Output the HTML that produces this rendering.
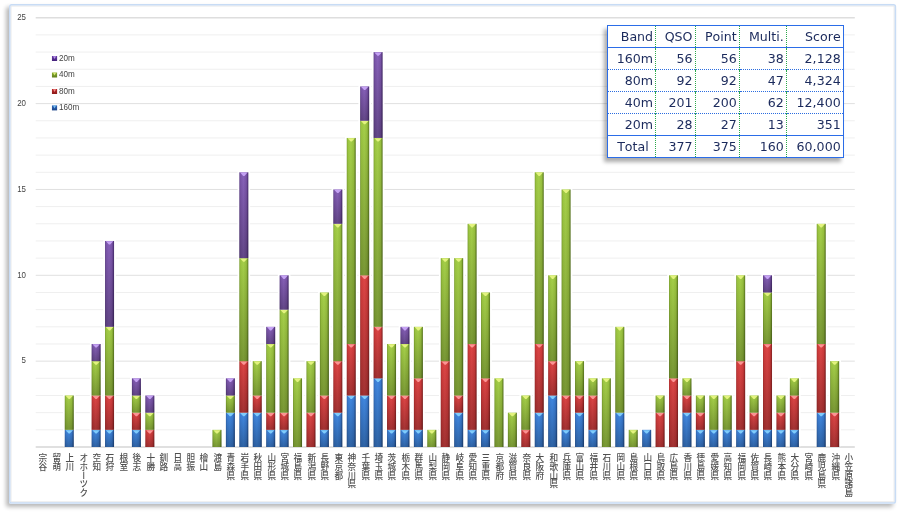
<!DOCTYPE html>
<html lang="ja"><head><meta charset="utf-8"><title>chart</title>
<style>
html,body{margin:0;padding:0;background:#fff;}
body{width:900px;height:513px;position:relative;overflow:hidden;font-family:"Liberation Sans","Noto Sans CJK JP",sans-serif;}
#frame{position:absolute;left:9.2px;top:4.2px;width:886.7px;height:499.5px;border-radius:2px;background:#fff;box-shadow:-3px 3px 4px rgba(0,0,0,0.28);}
.yl{position:absolute;left:5.8px;width:20px;text-align:right;font-size:8.8px;line-height:10px;color:#444;transform:scaleX(0.9);transform-origin:100% 50%;}
.lg{position:absolute;left:59.3px;font-size:8.8px;line-height:10px;color:#444;white-space:nowrap;transform:scaleX(0.92);transform-origin:0 50%;}
.cl{position:absolute;top:453.2px;width:10px;font-family:"Liberation Sans","Noto Sans CJK JP",sans-serif;font-size:9.3px;font-weight:500;line-height:10px;color:#505050;writing-mode:vertical-rl;text-orientation:upright;white-space:nowrap;transform:scaleX(0.93);transform-origin:50% 0;letter-spacing:-0.55px;}
#tbl{position:absolute;left:606.7px;top:25px;border-collapse:collapse;background:#fff;font-family:"DejaVu Sans","Liberation Sans",sans-serif;font-size:12.6px;color:#1b2a5c;box-shadow:-3px 3.5px 4px rgba(0,0,0,0.33);}
#tbl td{font-kerning:none;height:21.75px;padding:1px 2.2px 0 0;text-align:right;box-sizing:border-box;border-left:1.3px dotted #2aa84a;border-top:1.3px dotted #2b6de0;line-height:20px;white-space:nowrap;}
#tbl td:first-child{border-left:none;}
#tbl{border:1.5px solid #2b6de8;}
#tbl tr.h td{border-top:none;}
#tbl tr.s td{border-top:1.5px solid #2b6de8;}
</style></head><body>
<div id="frame"></div>

<svg width="900" height="513" viewBox="0 0 900 513" style="position:absolute;left:0;top:0">
<defs>
<linearGradient id="gb" x1="0" x2="1" y1="0" y2="0"><stop offset="0" stop-color="#2f64ac"/><stop offset="0.14" stop-color="#3c7fd6"/><stop offset="0.45" stop-color="#4189e2"/><stop offset="0.78" stop-color="#3a7bd0"/><stop offset="1" stop-color="#1f4884"/></linearGradient>
<linearGradient id="gr" x1="0" x2="1" y1="0" y2="0"><stop offset="0" stop-color="#ac2e2e"/><stop offset="0.14" stop-color="#d23c3c"/><stop offset="0.45" stop-color="#de4646"/><stop offset="0.78" stop-color="#cf3b3b"/><stop offset="1" stop-color="#842020"/></linearGradient>
<linearGradient id="gg" x1="0" x2="1" y1="0" y2="0"><stop offset="0" stop-color="#7a9e2e"/><stop offset="0.14" stop-color="#9cc640"/><stop offset="0.45" stop-color="#a6d04a"/><stop offset="0.78" stop-color="#98c03e"/><stop offset="1" stop-color="#56741c"/></linearGradient>
<linearGradient id="gp" x1="0" x2="1" y1="0" y2="0"><stop offset="0" stop-color="#5e4088"/><stop offset="0.14" stop-color="#7c56ac"/><stop offset="0.45" stop-color="#8862ba"/><stop offset="0.78" stop-color="#7a54a9"/><stop offset="1" stop-color="#44296a"/></linearGradient>
<linearGradient id="sh" x1="0" x2="0" y1="0" y2="1"><stop offset="0" stop-color="#000" stop-opacity="0"/><stop offset="1" stop-color="#000" stop-opacity="0.27"/></linearGradient>
<linearGradient id="mb" x1="0" x2="0" y1="0" y2="1"><stop offset="0" stop-color="#2f68bc"/><stop offset="1" stop-color="#1c4488"/></linearGradient>
<linearGradient id="mr" x1="0" x2="0" y1="0" y2="1"><stop offset="0" stop-color="#b82a2a"/><stop offset="1" stop-color="#8c1a1a"/></linearGradient>
<linearGradient id="mg" x1="0" x2="0" y1="0" y2="1"><stop offset="0" stop-color="#8aae30"/><stop offset="1" stop-color="#5f7e1c"/></linearGradient>
<linearGradient id="mp" x1="0" x2="0" y1="0" y2="1"><stop offset="0" stop-color="#6a3fa8"/><stop offset="1" stop-color="#43207a"/></linearGradient>
</defs>
<rect x="11" y="6.05" width="883.15" height="495.8" fill="none" stroke="#e9e9e9" stroke-width="1"/>
<rect x="9.75" y="4.8" width="885.65" height="498.3" rx="1.8" fill="none" stroke="#c8dcf5" stroke-width="1.5"/>
<line x1="35.7" x2="854.8" y1="447.00" y2="447.00" stroke="#d6d6d6" stroke-width="1.4"/>
<line x1="35.7" x2="854.8" y1="429.83" y2="429.83" stroke="#efefef" stroke-width="1"/>
<line x1="35.7" x2="854.8" y1="412.66" y2="412.66" stroke="#efefef" stroke-width="1"/>
<line x1="35.7" x2="854.8" y1="395.49" y2="395.49" stroke="#efefef" stroke-width="1"/>
<line x1="35.7" x2="854.8" y1="378.32" y2="378.32" stroke="#efefef" stroke-width="1"/>
<line x1="35.7" x2="854.8" y1="361.15" y2="361.15" stroke="#e0e0e0" stroke-width="1"/>
<line x1="35.7" x2="854.8" y1="343.98" y2="343.98" stroke="#efefef" stroke-width="1"/>
<line x1="35.7" x2="854.8" y1="326.81" y2="326.81" stroke="#efefef" stroke-width="1"/>
<line x1="35.7" x2="854.8" y1="309.64" y2="309.64" stroke="#efefef" stroke-width="1"/>
<line x1="35.7" x2="854.8" y1="292.47" y2="292.47" stroke="#efefef" stroke-width="1"/>
<line x1="35.7" x2="854.8" y1="275.30" y2="275.30" stroke="#e0e0e0" stroke-width="1"/>
<line x1="35.7" x2="854.8" y1="258.13" y2="258.13" stroke="#efefef" stroke-width="1"/>
<line x1="35.7" x2="854.8" y1="240.96" y2="240.96" stroke="#efefef" stroke-width="1"/>
<line x1="35.7" x2="854.8" y1="223.79" y2="223.79" stroke="#efefef" stroke-width="1"/>
<line x1="35.7" x2="854.8" y1="206.62" y2="206.62" stroke="#efefef" stroke-width="1"/>
<line x1="35.7" x2="854.8" y1="189.45" y2="189.45" stroke="#e0e0e0" stroke-width="1"/>
<line x1="35.7" x2="854.8" y1="172.28" y2="172.28" stroke="#efefef" stroke-width="1"/>
<line x1="35.7" x2="854.8" y1="155.11" y2="155.11" stroke="#efefef" stroke-width="1"/>
<line x1="35.7" x2="854.8" y1="137.94" y2="137.94" stroke="#efefef" stroke-width="1"/>
<line x1="35.7" x2="854.8" y1="120.77" y2="120.77" stroke="#efefef" stroke-width="1"/>
<line x1="35.7" x2="854.8" y1="103.60" y2="103.60" stroke="#e0e0e0" stroke-width="1"/>
<line x1="35.7" x2="854.8" y1="86.43" y2="86.43" stroke="#efefef" stroke-width="1"/>
<line x1="35.7" x2="854.8" y1="69.26" y2="69.26" stroke="#efefef" stroke-width="1"/>
<line x1="35.7" x2="854.8" y1="52.09" y2="52.09" stroke="#efefef" stroke-width="1"/>
<line x1="35.7" x2="854.8" y1="34.92" y2="34.92" stroke="#efefef" stroke-width="1"/>
<line x1="35.7" x2="854.8" y1="17.75" y2="17.75" stroke="#dedede" stroke-width="1.3"/>
<rect x="62.97" y="394.29" width="12.6" height="52.01" fill="#fff"/>
<rect x="64.77" y="429.83" width="9.0" height="17.17" fill="url(#gb)"/>
<rect x="64.77" y="429.83" width="9.0" height="17.17" fill="url(#sh)"/>
<path d="M65.57 430.13 L72.97 430.13 L69.87 433.43 L68.67 433.43 Z" fill="#86d4ff" opacity="0.9"/>
<rect x="64.77" y="395.49" width="9.0" height="34.34" fill="url(#gg)"/>
<rect x="64.77" y="395.49" width="9.0" height="34.34" fill="url(#sh)"/>
<path d="M65.57 395.79 L72.97 395.79 L69.87 399.09 L68.67 399.09 Z" fill="#eaf784" opacity="0.9"/>
<rect x="89.83" y="342.78" width="12.6" height="103.52" fill="#fff"/>
<rect x="91.63" y="429.83" width="9.0" height="17.17" fill="url(#gb)"/>
<rect x="91.63" y="429.83" width="9.0" height="17.17" fill="url(#sh)"/>
<path d="M92.43 430.13 L99.83 430.13 L96.73 433.43 L95.53 433.43 Z" fill="#86d4ff" opacity="0.9"/>
<rect x="91.63" y="395.49" width="9.0" height="34.34" fill="url(#gr)"/>
<rect x="91.63" y="395.49" width="9.0" height="34.34" fill="url(#sh)"/>
<path d="M92.43 395.79 L99.83 395.79 L96.73 399.09 L95.53 399.09 Z" fill="#ff9c9c" opacity="0.9"/>
<rect x="91.63" y="361.15" width="9.0" height="34.34" fill="url(#gg)"/>
<rect x="91.63" y="361.15" width="9.0" height="34.34" fill="url(#sh)"/>
<path d="M92.43 361.45 L99.83 361.45 L96.73 364.75 L95.53 364.75 Z" fill="#eaf784" opacity="0.9"/>
<rect x="91.63" y="343.98" width="9.0" height="17.17" fill="url(#gp)"/>
<rect x="91.63" y="343.98" width="9.0" height="17.17" fill="url(#sh)"/>
<path d="M92.43 344.28 L99.83 344.28 L96.73 347.58 L95.53 347.58 Z" fill="#ccaafb" opacity="0.9"/>
<rect x="103.25" y="239.76" width="12.6" height="206.54" fill="#fff"/>
<rect x="105.05" y="429.83" width="9.0" height="17.17" fill="url(#gb)"/>
<rect x="105.05" y="429.83" width="9.0" height="17.17" fill="url(#sh)"/>
<path d="M105.85 430.13 L113.25 430.13 L110.15 433.43 L108.95 433.43 Z" fill="#86d4ff" opacity="0.9"/>
<rect x="105.05" y="395.49" width="9.0" height="34.34" fill="url(#gr)"/>
<rect x="105.05" y="395.49" width="9.0" height="34.34" fill="url(#sh)"/>
<path d="M105.85 395.79 L113.25 395.79 L110.15 399.09 L108.95 399.09 Z" fill="#ff9c9c" opacity="0.9"/>
<rect x="105.05" y="326.81" width="9.0" height="68.68" fill="url(#gg)"/>
<rect x="105.05" y="326.81" width="9.0" height="68.68" fill="url(#sh)"/>
<path d="M105.85 327.11 L113.25 327.11 L110.15 330.41 L108.95 330.41 Z" fill="#eaf784" opacity="0.9"/>
<rect x="105.05" y="240.96" width="9.0" height="85.85" fill="url(#gp)"/>
<rect x="105.05" y="240.96" width="9.0" height="85.85" fill="url(#sh)"/>
<path d="M105.85 241.26 L113.25 241.26 L110.15 244.56 L108.95 244.56 Z" fill="#ccaafb" opacity="0.9"/>
<rect x="130.11" y="377.12" width="12.6" height="69.18" fill="#fff"/>
<rect x="131.91" y="429.83" width="9.0" height="17.17" fill="url(#gb)"/>
<rect x="131.91" y="429.83" width="9.0" height="17.17" fill="url(#sh)"/>
<path d="M132.71 430.13 L140.11 430.13 L137.01 433.43 L135.81 433.43 Z" fill="#86d4ff" opacity="0.9"/>
<rect x="131.91" y="412.66" width="9.0" height="17.17" fill="url(#gr)"/>
<rect x="131.91" y="412.66" width="9.0" height="17.17" fill="url(#sh)"/>
<path d="M132.71 412.96 L140.11 412.96 L137.01 416.26 L135.81 416.26 Z" fill="#ff9c9c" opacity="0.9"/>
<rect x="131.91" y="395.49" width="9.0" height="17.17" fill="url(#gg)"/>
<rect x="131.91" y="395.49" width="9.0" height="17.17" fill="url(#sh)"/>
<path d="M132.71 395.79 L140.11 395.79 L137.01 399.09 L135.81 399.09 Z" fill="#eaf784" opacity="0.9"/>
<rect x="131.91" y="378.32" width="9.0" height="17.17" fill="url(#gp)"/>
<rect x="131.91" y="378.32" width="9.0" height="17.17" fill="url(#sh)"/>
<path d="M132.71 378.62 L140.11 378.62 L137.01 381.92 L135.81 381.92 Z" fill="#ccaafb" opacity="0.9"/>
<rect x="143.54" y="394.29" width="12.6" height="52.01" fill="#fff"/>
<rect x="145.34" y="429.83" width="9.0" height="17.17" fill="url(#gr)"/>
<rect x="145.34" y="429.83" width="9.0" height="17.17" fill="url(#sh)"/>
<path d="M146.14 430.13 L153.54 430.13 L150.44 433.43 L149.24 433.43 Z" fill="#ff9c9c" opacity="0.9"/>
<rect x="145.34" y="412.66" width="9.0" height="17.17" fill="url(#gg)"/>
<rect x="145.34" y="412.66" width="9.0" height="17.17" fill="url(#sh)"/>
<path d="M146.14 412.96 L153.54 412.96 L150.44 416.26 L149.24 416.26 Z" fill="#eaf784" opacity="0.9"/>
<rect x="145.34" y="395.49" width="9.0" height="17.17" fill="url(#gp)"/>
<rect x="145.34" y="395.49" width="9.0" height="17.17" fill="url(#sh)"/>
<path d="M146.14 395.79 L153.54 395.79 L150.44 399.09 L149.24 399.09 Z" fill="#ccaafb" opacity="0.9"/>
<rect x="210.68" y="428.63" width="12.6" height="17.67" fill="#fff"/>
<rect x="212.48" y="429.83" width="9.0" height="17.17" fill="url(#gg)"/>
<rect x="212.48" y="429.83" width="9.0" height="17.17" fill="url(#sh)"/>
<path d="M213.28 430.13 L220.68 430.13 L217.58 433.43 L216.38 433.43 Z" fill="#eaf784" opacity="0.9"/>
<rect x="224.10" y="377.12" width="12.6" height="69.18" fill="#fff"/>
<rect x="225.90" y="412.66" width="9.0" height="34.34" fill="url(#gb)"/>
<rect x="225.90" y="412.66" width="9.0" height="34.34" fill="url(#sh)"/>
<path d="M226.70 412.96 L234.10 412.96 L231.00 416.26 L229.80 416.26 Z" fill="#86d4ff" opacity="0.9"/>
<rect x="225.90" y="395.49" width="9.0" height="17.17" fill="url(#gg)"/>
<rect x="225.90" y="395.49" width="9.0" height="17.17" fill="url(#sh)"/>
<path d="M226.70 395.79 L234.10 395.79 L231.00 399.09 L229.80 399.09 Z" fill="#eaf784" opacity="0.9"/>
<rect x="225.90" y="378.32" width="9.0" height="17.17" fill="url(#gp)"/>
<rect x="225.90" y="378.32" width="9.0" height="17.17" fill="url(#sh)"/>
<path d="M226.70 378.62 L234.10 378.62 L231.00 381.92 L229.80 381.92 Z" fill="#ccaafb" opacity="0.9"/>
<rect x="237.53" y="171.08" width="12.6" height="275.22" fill="#fff"/>
<rect x="239.33" y="412.66" width="9.0" height="34.34" fill="url(#gb)"/>
<rect x="239.33" y="412.66" width="9.0" height="34.34" fill="url(#sh)"/>
<path d="M240.13 412.96 L247.53 412.96 L244.43 416.26 L243.23 416.26 Z" fill="#86d4ff" opacity="0.9"/>
<rect x="239.33" y="361.15" width="9.0" height="51.51" fill="url(#gr)"/>
<rect x="239.33" y="361.15" width="9.0" height="51.51" fill="url(#sh)"/>
<path d="M240.13 361.45 L247.53 361.45 L244.43 364.75 L243.23 364.75 Z" fill="#ff9c9c" opacity="0.9"/>
<rect x="239.33" y="258.13" width="9.0" height="103.02" fill="url(#gg)"/>
<rect x="239.33" y="258.13" width="9.0" height="103.02" fill="url(#sh)"/>
<path d="M240.13 258.43 L247.53 258.43 L244.43 261.73 L243.23 261.73 Z" fill="#eaf784" opacity="0.9"/>
<rect x="239.33" y="172.28" width="9.0" height="85.85" fill="url(#gp)"/>
<rect x="239.33" y="172.28" width="9.0" height="85.85" fill="url(#sh)"/>
<path d="M240.13 172.58 L247.53 172.58 L244.43 175.88 L243.23 175.88 Z" fill="#ccaafb" opacity="0.9"/>
<rect x="250.96" y="359.95" width="12.6" height="86.35" fill="#fff"/>
<rect x="252.76" y="412.66" width="9.0" height="34.34" fill="url(#gb)"/>
<rect x="252.76" y="412.66" width="9.0" height="34.34" fill="url(#sh)"/>
<path d="M253.56 412.96 L260.96 412.96 L257.86 416.26 L256.66 416.26 Z" fill="#86d4ff" opacity="0.9"/>
<rect x="252.76" y="395.49" width="9.0" height="17.17" fill="url(#gr)"/>
<rect x="252.76" y="395.49" width="9.0" height="17.17" fill="url(#sh)"/>
<path d="M253.56 395.79 L260.96 395.79 L257.86 399.09 L256.66 399.09 Z" fill="#ff9c9c" opacity="0.9"/>
<rect x="252.76" y="361.15" width="9.0" height="34.34" fill="url(#gg)"/>
<rect x="252.76" y="361.15" width="9.0" height="34.34" fill="url(#sh)"/>
<path d="M253.56 361.45 L260.96 361.45 L257.86 364.75 L256.66 364.75 Z" fill="#eaf784" opacity="0.9"/>
<rect x="264.39" y="325.61" width="12.6" height="120.69" fill="#fff"/>
<rect x="266.19" y="429.83" width="9.0" height="17.17" fill="url(#gb)"/>
<rect x="266.19" y="429.83" width="9.0" height="17.17" fill="url(#sh)"/>
<path d="M266.99 430.13 L274.39 430.13 L271.29 433.43 L270.09 433.43 Z" fill="#86d4ff" opacity="0.9"/>
<rect x="266.19" y="412.66" width="9.0" height="17.17" fill="url(#gr)"/>
<rect x="266.19" y="412.66" width="9.0" height="17.17" fill="url(#sh)"/>
<path d="M266.99 412.96 L274.39 412.96 L271.29 416.26 L270.09 416.26 Z" fill="#ff9c9c" opacity="0.9"/>
<rect x="266.19" y="343.98" width="9.0" height="68.68" fill="url(#gg)"/>
<rect x="266.19" y="343.98" width="9.0" height="68.68" fill="url(#sh)"/>
<path d="M266.99 344.28 L274.39 344.28 L271.29 347.58 L270.09 347.58 Z" fill="#eaf784" opacity="0.9"/>
<rect x="266.19" y="326.81" width="9.0" height="17.17" fill="url(#gp)"/>
<rect x="266.19" y="326.81" width="9.0" height="17.17" fill="url(#sh)"/>
<path d="M266.99 327.11 L274.39 327.11 L271.29 330.41 L270.09 330.41 Z" fill="#ccaafb" opacity="0.9"/>
<rect x="277.82" y="274.10" width="12.6" height="172.20" fill="#fff"/>
<rect x="279.62" y="429.83" width="9.0" height="17.17" fill="url(#gb)"/>
<rect x="279.62" y="429.83" width="9.0" height="17.17" fill="url(#sh)"/>
<path d="M280.42 430.13 L287.82 430.13 L284.72 433.43 L283.52 433.43 Z" fill="#86d4ff" opacity="0.9"/>
<rect x="279.62" y="412.66" width="9.0" height="17.17" fill="url(#gr)"/>
<rect x="279.62" y="412.66" width="9.0" height="17.17" fill="url(#sh)"/>
<path d="M280.42 412.96 L287.82 412.96 L284.72 416.26 L283.52 416.26 Z" fill="#ff9c9c" opacity="0.9"/>
<rect x="279.62" y="309.64" width="9.0" height="103.02" fill="url(#gg)"/>
<rect x="279.62" y="309.64" width="9.0" height="103.02" fill="url(#sh)"/>
<path d="M280.42 309.94 L287.82 309.94 L284.72 313.24 L283.52 313.24 Z" fill="#eaf784" opacity="0.9"/>
<rect x="279.62" y="275.30" width="9.0" height="34.34" fill="url(#gp)"/>
<rect x="279.62" y="275.30" width="9.0" height="34.34" fill="url(#sh)"/>
<path d="M280.42 275.60 L287.82 275.60 L284.72 278.90 L283.52 278.90 Z" fill="#ccaafb" opacity="0.9"/>
<rect x="291.24" y="377.12" width="12.6" height="69.18" fill="#fff"/>
<rect x="293.04" y="378.32" width="9.0" height="68.68" fill="url(#gg)"/>
<rect x="293.04" y="378.32" width="9.0" height="68.68" fill="url(#sh)"/>
<path d="M293.84 378.62 L301.24 378.62 L298.14 381.92 L296.94 381.92 Z" fill="#eaf784" opacity="0.9"/>
<rect x="304.67" y="359.95" width="12.6" height="86.35" fill="#fff"/>
<rect x="306.47" y="412.66" width="9.0" height="34.34" fill="url(#gr)"/>
<rect x="306.47" y="412.66" width="9.0" height="34.34" fill="url(#sh)"/>
<path d="M307.27 412.96 L314.67 412.96 L311.57 416.26 L310.37 416.26 Z" fill="#ff9c9c" opacity="0.9"/>
<rect x="306.47" y="361.15" width="9.0" height="51.51" fill="url(#gg)"/>
<rect x="306.47" y="361.15" width="9.0" height="51.51" fill="url(#sh)"/>
<path d="M307.27 361.45 L314.67 361.45 L311.57 364.75 L310.37 364.75 Z" fill="#eaf784" opacity="0.9"/>
<rect x="318.10" y="291.27" width="12.6" height="155.03" fill="#fff"/>
<rect x="319.90" y="429.83" width="9.0" height="17.17" fill="url(#gb)"/>
<rect x="319.90" y="429.83" width="9.0" height="17.17" fill="url(#sh)"/>
<path d="M320.70 430.13 L328.10 430.13 L325.00 433.43 L323.80 433.43 Z" fill="#86d4ff" opacity="0.9"/>
<rect x="319.90" y="395.49" width="9.0" height="34.34" fill="url(#gr)"/>
<rect x="319.90" y="395.49" width="9.0" height="34.34" fill="url(#sh)"/>
<path d="M320.70 395.79 L328.10 395.79 L325.00 399.09 L323.80 399.09 Z" fill="#ff9c9c" opacity="0.9"/>
<rect x="319.90" y="292.47" width="9.0" height="103.02" fill="url(#gg)"/>
<rect x="319.90" y="292.47" width="9.0" height="103.02" fill="url(#sh)"/>
<path d="M320.70 292.77 L328.10 292.77 L325.00 296.07 L323.80 296.07 Z" fill="#eaf784" opacity="0.9"/>
<rect x="331.53" y="188.25" width="12.6" height="258.05" fill="#fff"/>
<rect x="333.33" y="412.66" width="9.0" height="34.34" fill="url(#gb)"/>
<rect x="333.33" y="412.66" width="9.0" height="34.34" fill="url(#sh)"/>
<path d="M334.13 412.96 L341.53 412.96 L338.43 416.26 L337.23 416.26 Z" fill="#86d4ff" opacity="0.9"/>
<rect x="333.33" y="361.15" width="9.0" height="51.51" fill="url(#gr)"/>
<rect x="333.33" y="361.15" width="9.0" height="51.51" fill="url(#sh)"/>
<path d="M334.13 361.45 L341.53 361.45 L338.43 364.75 L337.23 364.75 Z" fill="#ff9c9c" opacity="0.9"/>
<rect x="333.33" y="223.79" width="9.0" height="137.36" fill="url(#gg)"/>
<rect x="333.33" y="223.79" width="9.0" height="137.36" fill="url(#sh)"/>
<path d="M334.13 224.09 L341.53 224.09 L338.43 227.39 L337.23 227.39 Z" fill="#eaf784" opacity="0.9"/>
<rect x="333.33" y="189.45" width="9.0" height="34.34" fill="url(#gp)"/>
<rect x="333.33" y="189.45" width="9.0" height="34.34" fill="url(#sh)"/>
<path d="M334.13 189.75 L341.53 189.75 L338.43 193.05 L337.23 193.05 Z" fill="#ccaafb" opacity="0.9"/>
<rect x="344.95" y="136.74" width="12.6" height="309.56" fill="#fff"/>
<rect x="346.75" y="395.49" width="9.0" height="51.51" fill="url(#gb)"/>
<rect x="346.75" y="395.49" width="9.0" height="51.51" fill="url(#sh)"/>
<path d="M347.55 395.79 L354.95 395.79 L351.85 399.09 L350.65 399.09 Z" fill="#86d4ff" opacity="0.9"/>
<rect x="346.75" y="343.98" width="9.0" height="51.51" fill="url(#gr)"/>
<rect x="346.75" y="343.98" width="9.0" height="51.51" fill="url(#sh)"/>
<path d="M347.55 344.28 L354.95 344.28 L351.85 347.58 L350.65 347.58 Z" fill="#ff9c9c" opacity="0.9"/>
<rect x="346.75" y="137.94" width="9.0" height="206.04" fill="url(#gg)"/>
<rect x="346.75" y="137.94" width="9.0" height="206.04" fill="url(#sh)"/>
<path d="M347.55 138.24 L354.95 138.24 L351.85 141.54 L350.65 141.54 Z" fill="#eaf784" opacity="0.9"/>
<rect x="358.38" y="85.23" width="12.6" height="361.07" fill="#fff"/>
<rect x="360.18" y="395.49" width="9.0" height="51.51" fill="url(#gb)"/>
<rect x="360.18" y="395.49" width="9.0" height="51.51" fill="url(#sh)"/>
<path d="M360.98 395.79 L368.38 395.79 L365.28 399.09 L364.08 399.09 Z" fill="#86d4ff" opacity="0.9"/>
<rect x="360.18" y="275.30" width="9.0" height="120.19" fill="url(#gr)"/>
<rect x="360.18" y="275.30" width="9.0" height="120.19" fill="url(#sh)"/>
<path d="M360.98 275.60 L368.38 275.60 L365.28 278.90 L364.08 278.90 Z" fill="#ff9c9c" opacity="0.9"/>
<rect x="360.18" y="120.77" width="9.0" height="154.53" fill="url(#gg)"/>
<rect x="360.18" y="120.77" width="9.0" height="154.53" fill="url(#sh)"/>
<path d="M360.98 121.07 L368.38 121.07 L365.28 124.37 L364.08 124.37 Z" fill="#eaf784" opacity="0.9"/>
<rect x="360.18" y="86.43" width="9.0" height="34.34" fill="url(#gp)"/>
<rect x="360.18" y="86.43" width="9.0" height="34.34" fill="url(#sh)"/>
<path d="M360.98 86.73 L368.38 86.73 L365.28 90.03 L364.08 90.03 Z" fill="#ccaafb" opacity="0.9"/>
<rect x="371.81" y="50.89" width="12.6" height="395.41" fill="#fff"/>
<rect x="373.61" y="378.32" width="9.0" height="68.68" fill="url(#gb)"/>
<rect x="373.61" y="378.32" width="9.0" height="68.68" fill="url(#sh)"/>
<path d="M374.41 378.62 L381.81 378.62 L378.71 381.92 L377.51 381.92 Z" fill="#86d4ff" opacity="0.9"/>
<rect x="373.61" y="326.81" width="9.0" height="51.51" fill="url(#gr)"/>
<rect x="373.61" y="326.81" width="9.0" height="51.51" fill="url(#sh)"/>
<path d="M374.41 327.11 L381.81 327.11 L378.71 330.41 L377.51 330.41 Z" fill="#ff9c9c" opacity="0.9"/>
<rect x="373.61" y="137.94" width="9.0" height="188.87" fill="url(#gg)"/>
<rect x="373.61" y="137.94" width="9.0" height="188.87" fill="url(#sh)"/>
<path d="M374.41 138.24 L381.81 138.24 L378.71 141.54 L377.51 141.54 Z" fill="#eaf784" opacity="0.9"/>
<rect x="373.61" y="52.09" width="9.0" height="85.85" fill="url(#gp)"/>
<rect x="373.61" y="52.09" width="9.0" height="85.85" fill="url(#sh)"/>
<path d="M374.41 52.39 L381.81 52.39 L378.71 55.69 L377.51 55.69 Z" fill="#ccaafb" opacity="0.9"/>
<rect x="385.24" y="342.78" width="12.6" height="103.52" fill="#fff"/>
<rect x="387.04" y="429.83" width="9.0" height="17.17" fill="url(#gb)"/>
<rect x="387.04" y="429.83" width="9.0" height="17.17" fill="url(#sh)"/>
<path d="M387.84 430.13 L395.24 430.13 L392.14 433.43 L390.94 433.43 Z" fill="#86d4ff" opacity="0.9"/>
<rect x="387.04" y="395.49" width="9.0" height="34.34" fill="url(#gr)"/>
<rect x="387.04" y="395.49" width="9.0" height="34.34" fill="url(#sh)"/>
<path d="M387.84 395.79 L395.24 395.79 L392.14 399.09 L390.94 399.09 Z" fill="#ff9c9c" opacity="0.9"/>
<rect x="387.04" y="343.98" width="9.0" height="51.51" fill="url(#gg)"/>
<rect x="387.04" y="343.98" width="9.0" height="51.51" fill="url(#sh)"/>
<path d="M387.84 344.28 L395.24 344.28 L392.14 347.58 L390.94 347.58 Z" fill="#eaf784" opacity="0.9"/>
<rect x="398.67" y="325.61" width="12.6" height="120.69" fill="#fff"/>
<rect x="400.47" y="429.83" width="9.0" height="17.17" fill="url(#gb)"/>
<rect x="400.47" y="429.83" width="9.0" height="17.17" fill="url(#sh)"/>
<path d="M401.27 430.13 L408.67 430.13 L405.57 433.43 L404.37 433.43 Z" fill="#86d4ff" opacity="0.9"/>
<rect x="400.47" y="395.49" width="9.0" height="34.34" fill="url(#gr)"/>
<rect x="400.47" y="395.49" width="9.0" height="34.34" fill="url(#sh)"/>
<path d="M401.27 395.79 L408.67 395.79 L405.57 399.09 L404.37 399.09 Z" fill="#ff9c9c" opacity="0.9"/>
<rect x="400.47" y="343.98" width="9.0" height="51.51" fill="url(#gg)"/>
<rect x="400.47" y="343.98" width="9.0" height="51.51" fill="url(#sh)"/>
<path d="M401.27 344.28 L408.67 344.28 L405.57 347.58 L404.37 347.58 Z" fill="#eaf784" opacity="0.9"/>
<rect x="400.47" y="326.81" width="9.0" height="17.17" fill="url(#gp)"/>
<rect x="400.47" y="326.81" width="9.0" height="17.17" fill="url(#sh)"/>
<path d="M401.27 327.11 L408.67 327.11 L405.57 330.41 L404.37 330.41 Z" fill="#ccaafb" opacity="0.9"/>
<rect x="412.09" y="325.61" width="12.6" height="120.69" fill="#fff"/>
<rect x="413.89" y="429.83" width="9.0" height="17.17" fill="url(#gb)"/>
<rect x="413.89" y="429.83" width="9.0" height="17.17" fill="url(#sh)"/>
<path d="M414.69 430.13 L422.09 430.13 L418.99 433.43 L417.79 433.43 Z" fill="#86d4ff" opacity="0.9"/>
<rect x="413.89" y="378.32" width="9.0" height="51.51" fill="url(#gr)"/>
<rect x="413.89" y="378.32" width="9.0" height="51.51" fill="url(#sh)"/>
<path d="M414.69 378.62 L422.09 378.62 L418.99 381.92 L417.79 381.92 Z" fill="#ff9c9c" opacity="0.9"/>
<rect x="413.89" y="326.81" width="9.0" height="51.51" fill="url(#gg)"/>
<rect x="413.89" y="326.81" width="9.0" height="51.51" fill="url(#sh)"/>
<path d="M414.69 327.11 L422.09 327.11 L418.99 330.41 L417.79 330.41 Z" fill="#eaf784" opacity="0.9"/>
<rect x="425.52" y="428.63" width="12.6" height="17.67" fill="#fff"/>
<rect x="427.32" y="429.83" width="9.0" height="17.17" fill="url(#gg)"/>
<rect x="427.32" y="429.83" width="9.0" height="17.17" fill="url(#sh)"/>
<path d="M428.12 430.13 L435.52 430.13 L432.42 433.43 L431.22 433.43 Z" fill="#eaf784" opacity="0.9"/>
<rect x="438.95" y="256.93" width="12.6" height="189.37" fill="#fff"/>
<rect x="440.75" y="361.15" width="9.0" height="85.85" fill="url(#gr)"/>
<rect x="440.75" y="361.15" width="9.0" height="85.85" fill="url(#sh)"/>
<path d="M441.55 361.45 L448.95 361.45 L445.85 364.75 L444.65 364.75 Z" fill="#ff9c9c" opacity="0.9"/>
<rect x="440.75" y="258.13" width="9.0" height="103.02" fill="url(#gg)"/>
<rect x="440.75" y="258.13" width="9.0" height="103.02" fill="url(#sh)"/>
<path d="M441.55 258.43 L448.95 258.43 L445.85 261.73 L444.65 261.73 Z" fill="#eaf784" opacity="0.9"/>
<rect x="452.38" y="256.93" width="12.6" height="189.37" fill="#fff"/>
<rect x="454.18" y="412.66" width="9.0" height="34.34" fill="url(#gb)"/>
<rect x="454.18" y="412.66" width="9.0" height="34.34" fill="url(#sh)"/>
<path d="M454.98 412.96 L462.38 412.96 L459.28 416.26 L458.08 416.26 Z" fill="#86d4ff" opacity="0.9"/>
<rect x="454.18" y="395.49" width="9.0" height="17.17" fill="url(#gr)"/>
<rect x="454.18" y="395.49" width="9.0" height="17.17" fill="url(#sh)"/>
<path d="M454.98 395.79 L462.38 395.79 L459.28 399.09 L458.08 399.09 Z" fill="#ff9c9c" opacity="0.9"/>
<rect x="454.18" y="258.13" width="9.0" height="137.36" fill="url(#gg)"/>
<rect x="454.18" y="258.13" width="9.0" height="137.36" fill="url(#sh)"/>
<path d="M454.98 258.43 L462.38 258.43 L459.28 261.73 L458.08 261.73 Z" fill="#eaf784" opacity="0.9"/>
<rect x="465.81" y="222.59" width="12.6" height="223.71" fill="#fff"/>
<rect x="467.61" y="429.83" width="9.0" height="17.17" fill="url(#gb)"/>
<rect x="467.61" y="429.83" width="9.0" height="17.17" fill="url(#sh)"/>
<path d="M468.41 430.13 L475.81 430.13 L472.71 433.43 L471.51 433.43 Z" fill="#86d4ff" opacity="0.9"/>
<rect x="467.61" y="343.98" width="9.0" height="85.85" fill="url(#gr)"/>
<rect x="467.61" y="343.98" width="9.0" height="85.85" fill="url(#sh)"/>
<path d="M468.41 344.28 L475.81 344.28 L472.71 347.58 L471.51 347.58 Z" fill="#ff9c9c" opacity="0.9"/>
<rect x="467.61" y="223.79" width="9.0" height="120.19" fill="url(#gg)"/>
<rect x="467.61" y="223.79" width="9.0" height="120.19" fill="url(#sh)"/>
<path d="M468.41 224.09 L475.81 224.09 L472.71 227.39 L471.51 227.39 Z" fill="#eaf784" opacity="0.9"/>
<rect x="479.23" y="291.27" width="12.6" height="155.03" fill="#fff"/>
<rect x="481.03" y="429.83" width="9.0" height="17.17" fill="url(#gb)"/>
<rect x="481.03" y="429.83" width="9.0" height="17.17" fill="url(#sh)"/>
<path d="M481.83 430.13 L489.23 430.13 L486.13 433.43 L484.93 433.43 Z" fill="#86d4ff" opacity="0.9"/>
<rect x="481.03" y="378.32" width="9.0" height="51.51" fill="url(#gr)"/>
<rect x="481.03" y="378.32" width="9.0" height="51.51" fill="url(#sh)"/>
<path d="M481.83 378.62 L489.23 378.62 L486.13 381.92 L484.93 381.92 Z" fill="#ff9c9c" opacity="0.9"/>
<rect x="481.03" y="292.47" width="9.0" height="85.85" fill="url(#gg)"/>
<rect x="481.03" y="292.47" width="9.0" height="85.85" fill="url(#sh)"/>
<path d="M481.83 292.77 L489.23 292.77 L486.13 296.07 L484.93 296.07 Z" fill="#eaf784" opacity="0.9"/>
<rect x="492.66" y="377.12" width="12.6" height="69.18" fill="#fff"/>
<rect x="494.46" y="378.32" width="9.0" height="68.68" fill="url(#gg)"/>
<rect x="494.46" y="378.32" width="9.0" height="68.68" fill="url(#sh)"/>
<path d="M495.26 378.62 L502.66 378.62 L499.56 381.92 L498.36 381.92 Z" fill="#eaf784" opacity="0.9"/>
<rect x="506.09" y="411.46" width="12.6" height="34.84" fill="#fff"/>
<rect x="507.89" y="412.66" width="9.0" height="34.34" fill="url(#gg)"/>
<rect x="507.89" y="412.66" width="9.0" height="34.34" fill="url(#sh)"/>
<path d="M508.69 412.96 L516.09 412.96 L512.99 416.26 L511.79 416.26 Z" fill="#eaf784" opacity="0.9"/>
<rect x="519.52" y="394.29" width="12.6" height="52.01" fill="#fff"/>
<rect x="521.32" y="429.83" width="9.0" height="17.17" fill="url(#gr)"/>
<rect x="521.32" y="429.83" width="9.0" height="17.17" fill="url(#sh)"/>
<path d="M522.12 430.13 L529.52 430.13 L526.42 433.43 L525.22 433.43 Z" fill="#ff9c9c" opacity="0.9"/>
<rect x="521.32" y="395.49" width="9.0" height="34.34" fill="url(#gg)"/>
<rect x="521.32" y="395.49" width="9.0" height="34.34" fill="url(#sh)"/>
<path d="M522.12 395.79 L529.52 395.79 L526.42 399.09 L525.22 399.09 Z" fill="#eaf784" opacity="0.9"/>
<rect x="532.95" y="171.08" width="12.6" height="275.22" fill="#fff"/>
<rect x="534.75" y="412.66" width="9.0" height="34.34" fill="url(#gb)"/>
<rect x="534.75" y="412.66" width="9.0" height="34.34" fill="url(#sh)"/>
<path d="M535.55 412.96 L542.95 412.96 L539.85 416.26 L538.65 416.26 Z" fill="#86d4ff" opacity="0.9"/>
<rect x="534.75" y="343.98" width="9.0" height="68.68" fill="url(#gr)"/>
<rect x="534.75" y="343.98" width="9.0" height="68.68" fill="url(#sh)"/>
<path d="M535.55 344.28 L542.95 344.28 L539.85 347.58 L538.65 347.58 Z" fill="#ff9c9c" opacity="0.9"/>
<rect x="534.75" y="172.28" width="9.0" height="171.70" fill="url(#gg)"/>
<rect x="534.75" y="172.28" width="9.0" height="171.70" fill="url(#sh)"/>
<path d="M535.55 172.58 L542.95 172.58 L539.85 175.88 L538.65 175.88 Z" fill="#eaf784" opacity="0.9"/>
<rect x="546.37" y="274.10" width="12.6" height="172.20" fill="#fff"/>
<rect x="548.17" y="395.49" width="9.0" height="51.51" fill="url(#gb)"/>
<rect x="548.17" y="395.49" width="9.0" height="51.51" fill="url(#sh)"/>
<path d="M548.97 395.79 L556.37 395.79 L553.27 399.09 L552.07 399.09 Z" fill="#86d4ff" opacity="0.9"/>
<rect x="548.17" y="361.15" width="9.0" height="34.34" fill="url(#gr)"/>
<rect x="548.17" y="361.15" width="9.0" height="34.34" fill="url(#sh)"/>
<path d="M548.97 361.45 L556.37 361.45 L553.27 364.75 L552.07 364.75 Z" fill="#ff9c9c" opacity="0.9"/>
<rect x="548.17" y="275.30" width="9.0" height="85.85" fill="url(#gg)"/>
<rect x="548.17" y="275.30" width="9.0" height="85.85" fill="url(#sh)"/>
<path d="M548.97 275.60 L556.37 275.60 L553.27 278.90 L552.07 278.90 Z" fill="#eaf784" opacity="0.9"/>
<rect x="559.80" y="188.25" width="12.6" height="258.05" fill="#fff"/>
<rect x="561.60" y="429.83" width="9.0" height="17.17" fill="url(#gb)"/>
<rect x="561.60" y="429.83" width="9.0" height="17.17" fill="url(#sh)"/>
<path d="M562.40 430.13 L569.80 430.13 L566.70 433.43 L565.50 433.43 Z" fill="#86d4ff" opacity="0.9"/>
<rect x="561.60" y="395.49" width="9.0" height="34.34" fill="url(#gr)"/>
<rect x="561.60" y="395.49" width="9.0" height="34.34" fill="url(#sh)"/>
<path d="M562.40 395.79 L569.80 395.79 L566.70 399.09 L565.50 399.09 Z" fill="#ff9c9c" opacity="0.9"/>
<rect x="561.60" y="189.45" width="9.0" height="206.04" fill="url(#gg)"/>
<rect x="561.60" y="189.45" width="9.0" height="206.04" fill="url(#sh)"/>
<path d="M562.40 189.75 L569.80 189.75 L566.70 193.05 L565.50 193.05 Z" fill="#eaf784" opacity="0.9"/>
<rect x="573.23" y="359.95" width="12.6" height="86.35" fill="#fff"/>
<rect x="575.03" y="412.66" width="9.0" height="34.34" fill="url(#gb)"/>
<rect x="575.03" y="412.66" width="9.0" height="34.34" fill="url(#sh)"/>
<path d="M575.83 412.96 L583.23 412.96 L580.13 416.26 L578.93 416.26 Z" fill="#86d4ff" opacity="0.9"/>
<rect x="575.03" y="395.49" width="9.0" height="17.17" fill="url(#gr)"/>
<rect x="575.03" y="395.49" width="9.0" height="17.17" fill="url(#sh)"/>
<path d="M575.83 395.79 L583.23 395.79 L580.13 399.09 L578.93 399.09 Z" fill="#ff9c9c" opacity="0.9"/>
<rect x="575.03" y="361.15" width="9.0" height="34.34" fill="url(#gg)"/>
<rect x="575.03" y="361.15" width="9.0" height="34.34" fill="url(#sh)"/>
<path d="M575.83 361.45 L583.23 361.45 L580.13 364.75 L578.93 364.75 Z" fill="#eaf784" opacity="0.9"/>
<rect x="586.66" y="377.12" width="12.6" height="69.18" fill="#fff"/>
<rect x="588.46" y="429.83" width="9.0" height="17.17" fill="url(#gb)"/>
<rect x="588.46" y="429.83" width="9.0" height="17.17" fill="url(#sh)"/>
<path d="M589.26 430.13 L596.66 430.13 L593.56 433.43 L592.36 433.43 Z" fill="#86d4ff" opacity="0.9"/>
<rect x="588.46" y="395.49" width="9.0" height="34.34" fill="url(#gr)"/>
<rect x="588.46" y="395.49" width="9.0" height="34.34" fill="url(#sh)"/>
<path d="M589.26 395.79 L596.66 395.79 L593.56 399.09 L592.36 399.09 Z" fill="#ff9c9c" opacity="0.9"/>
<rect x="588.46" y="378.32" width="9.0" height="17.17" fill="url(#gg)"/>
<rect x="588.46" y="378.32" width="9.0" height="17.17" fill="url(#sh)"/>
<path d="M589.26 378.62 L596.66 378.62 L593.56 381.92 L592.36 381.92 Z" fill="#eaf784" opacity="0.9"/>
<rect x="600.08" y="377.12" width="12.6" height="69.18" fill="#fff"/>
<rect x="601.88" y="378.32" width="9.0" height="68.68" fill="url(#gg)"/>
<rect x="601.88" y="378.32" width="9.0" height="68.68" fill="url(#sh)"/>
<path d="M602.68 378.62 L610.08 378.62 L606.98 381.92 L605.78 381.92 Z" fill="#eaf784" opacity="0.9"/>
<rect x="613.51" y="325.61" width="12.6" height="120.69" fill="#fff"/>
<rect x="615.31" y="412.66" width="9.0" height="34.34" fill="url(#gb)"/>
<rect x="615.31" y="412.66" width="9.0" height="34.34" fill="url(#sh)"/>
<path d="M616.11 412.96 L623.51 412.96 L620.41 416.26 L619.21 416.26 Z" fill="#86d4ff" opacity="0.9"/>
<rect x="615.31" y="326.81" width="9.0" height="85.85" fill="url(#gg)"/>
<rect x="615.31" y="326.81" width="9.0" height="85.85" fill="url(#sh)"/>
<path d="M616.11 327.11 L623.51 327.11 L620.41 330.41 L619.21 330.41 Z" fill="#eaf784" opacity="0.9"/>
<rect x="626.94" y="428.63" width="12.6" height="17.67" fill="#fff"/>
<rect x="628.74" y="429.83" width="9.0" height="17.17" fill="url(#gg)"/>
<rect x="628.74" y="429.83" width="9.0" height="17.17" fill="url(#sh)"/>
<path d="M629.54 430.13 L636.94 430.13 L633.84 433.43 L632.64 433.43 Z" fill="#eaf784" opacity="0.9"/>
<rect x="640.37" y="428.63" width="12.6" height="17.67" fill="#fff"/>
<rect x="642.17" y="429.83" width="9.0" height="17.17" fill="url(#gb)"/>
<rect x="642.17" y="429.83" width="9.0" height="17.17" fill="url(#sh)"/>
<path d="M642.97 430.13 L650.37 430.13 L647.27 433.43 L646.07 433.43 Z" fill="#86d4ff" opacity="0.9"/>
<rect x="653.80" y="394.29" width="12.6" height="52.01" fill="#fff"/>
<rect x="655.60" y="412.66" width="9.0" height="34.34" fill="url(#gr)"/>
<rect x="655.60" y="412.66" width="9.0" height="34.34" fill="url(#sh)"/>
<path d="M656.40 412.96 L663.80 412.96 L660.70 416.26 L659.50 416.26 Z" fill="#ff9c9c" opacity="0.9"/>
<rect x="655.60" y="395.49" width="9.0" height="17.17" fill="url(#gg)"/>
<rect x="655.60" y="395.49" width="9.0" height="17.17" fill="url(#sh)"/>
<path d="M656.40 395.79 L663.80 395.79 L660.70 399.09 L659.50 399.09 Z" fill="#eaf784" opacity="0.9"/>
<rect x="667.22" y="274.10" width="12.6" height="172.20" fill="#fff"/>
<rect x="669.02" y="378.32" width="9.0" height="68.68" fill="url(#gr)"/>
<rect x="669.02" y="378.32" width="9.0" height="68.68" fill="url(#sh)"/>
<path d="M669.82 378.62 L677.22 378.62 L674.12 381.92 L672.92 381.92 Z" fill="#ff9c9c" opacity="0.9"/>
<rect x="669.02" y="275.30" width="9.0" height="103.02" fill="url(#gg)"/>
<rect x="669.02" y="275.30" width="9.0" height="103.02" fill="url(#sh)"/>
<path d="M669.82 275.60 L677.22 275.60 L674.12 278.90 L672.92 278.90 Z" fill="#eaf784" opacity="0.9"/>
<rect x="680.65" y="377.12" width="12.6" height="69.18" fill="#fff"/>
<rect x="682.45" y="412.66" width="9.0" height="34.34" fill="url(#gb)"/>
<rect x="682.45" y="412.66" width="9.0" height="34.34" fill="url(#sh)"/>
<path d="M683.25 412.96 L690.65 412.96 L687.55 416.26 L686.35 416.26 Z" fill="#86d4ff" opacity="0.9"/>
<rect x="682.45" y="395.49" width="9.0" height="17.17" fill="url(#gr)"/>
<rect x="682.45" y="395.49" width="9.0" height="17.17" fill="url(#sh)"/>
<path d="M683.25 395.79 L690.65 395.79 L687.55 399.09 L686.35 399.09 Z" fill="#ff9c9c" opacity="0.9"/>
<rect x="682.45" y="378.32" width="9.0" height="17.17" fill="url(#gg)"/>
<rect x="682.45" y="378.32" width="9.0" height="17.17" fill="url(#sh)"/>
<path d="M683.25 378.62 L690.65 378.62 L687.55 381.92 L686.35 381.92 Z" fill="#eaf784" opacity="0.9"/>
<rect x="694.08" y="394.29" width="12.6" height="52.01" fill="#fff"/>
<rect x="695.88" y="429.83" width="9.0" height="17.17" fill="url(#gb)"/>
<rect x="695.88" y="429.83" width="9.0" height="17.17" fill="url(#sh)"/>
<path d="M696.68 430.13 L704.08 430.13 L700.98 433.43 L699.78 433.43 Z" fill="#86d4ff" opacity="0.9"/>
<rect x="695.88" y="412.66" width="9.0" height="17.17" fill="url(#gr)"/>
<rect x="695.88" y="412.66" width="9.0" height="17.17" fill="url(#sh)"/>
<path d="M696.68 412.96 L704.08 412.96 L700.98 416.26 L699.78 416.26 Z" fill="#ff9c9c" opacity="0.9"/>
<rect x="695.88" y="395.49" width="9.0" height="17.17" fill="url(#gg)"/>
<rect x="695.88" y="395.49" width="9.0" height="17.17" fill="url(#sh)"/>
<path d="M696.68 395.79 L704.08 395.79 L700.98 399.09 L699.78 399.09 Z" fill="#eaf784" opacity="0.9"/>
<rect x="707.51" y="394.29" width="12.6" height="52.01" fill="#fff"/>
<rect x="709.31" y="429.83" width="9.0" height="17.17" fill="url(#gb)"/>
<rect x="709.31" y="429.83" width="9.0" height="17.17" fill="url(#sh)"/>
<path d="M710.11 430.13 L717.51 430.13 L714.41 433.43 L713.21 433.43 Z" fill="#86d4ff" opacity="0.9"/>
<rect x="709.31" y="395.49" width="9.0" height="34.34" fill="url(#gg)"/>
<rect x="709.31" y="395.49" width="9.0" height="34.34" fill="url(#sh)"/>
<path d="M710.11 395.79 L717.51 395.79 L714.41 399.09 L713.21 399.09 Z" fill="#eaf784" opacity="0.9"/>
<rect x="720.94" y="394.29" width="12.6" height="52.01" fill="#fff"/>
<rect x="722.74" y="429.83" width="9.0" height="17.17" fill="url(#gb)"/>
<rect x="722.74" y="429.83" width="9.0" height="17.17" fill="url(#sh)"/>
<path d="M723.54 430.13 L730.94 430.13 L727.84 433.43 L726.64 433.43 Z" fill="#86d4ff" opacity="0.9"/>
<rect x="722.74" y="395.49" width="9.0" height="34.34" fill="url(#gg)"/>
<rect x="722.74" y="395.49" width="9.0" height="34.34" fill="url(#sh)"/>
<path d="M723.54 395.79 L730.94 395.79 L727.84 399.09 L726.64 399.09 Z" fill="#eaf784" opacity="0.9"/>
<rect x="734.36" y="274.10" width="12.6" height="172.20" fill="#fff"/>
<rect x="736.16" y="429.83" width="9.0" height="17.17" fill="url(#gb)"/>
<rect x="736.16" y="429.83" width="9.0" height="17.17" fill="url(#sh)"/>
<path d="M736.96 430.13 L744.36 430.13 L741.26 433.43 L740.06 433.43 Z" fill="#86d4ff" opacity="0.9"/>
<rect x="736.16" y="361.15" width="9.0" height="68.68" fill="url(#gr)"/>
<rect x="736.16" y="361.15" width="9.0" height="68.68" fill="url(#sh)"/>
<path d="M736.96 361.45 L744.36 361.45 L741.26 364.75 L740.06 364.75 Z" fill="#ff9c9c" opacity="0.9"/>
<rect x="736.16" y="275.30" width="9.0" height="85.85" fill="url(#gg)"/>
<rect x="736.16" y="275.30" width="9.0" height="85.85" fill="url(#sh)"/>
<path d="M736.96 275.60 L744.36 275.60 L741.26 278.90 L740.06 278.90 Z" fill="#eaf784" opacity="0.9"/>
<rect x="747.79" y="394.29" width="12.6" height="52.01" fill="#fff"/>
<rect x="749.59" y="429.83" width="9.0" height="17.17" fill="url(#gb)"/>
<rect x="749.59" y="429.83" width="9.0" height="17.17" fill="url(#sh)"/>
<path d="M750.39 430.13 L757.79 430.13 L754.69 433.43 L753.49 433.43 Z" fill="#86d4ff" opacity="0.9"/>
<rect x="749.59" y="412.66" width="9.0" height="17.17" fill="url(#gr)"/>
<rect x="749.59" y="412.66" width="9.0" height="17.17" fill="url(#sh)"/>
<path d="M750.39 412.96 L757.79 412.96 L754.69 416.26 L753.49 416.26 Z" fill="#ff9c9c" opacity="0.9"/>
<rect x="749.59" y="395.49" width="9.0" height="17.17" fill="url(#gg)"/>
<rect x="749.59" y="395.49" width="9.0" height="17.17" fill="url(#sh)"/>
<path d="M750.39 395.79 L757.79 395.79 L754.69 399.09 L753.49 399.09 Z" fill="#eaf784" opacity="0.9"/>
<rect x="761.22" y="274.10" width="12.6" height="172.20" fill="#fff"/>
<rect x="763.02" y="429.83" width="9.0" height="17.17" fill="url(#gb)"/>
<rect x="763.02" y="429.83" width="9.0" height="17.17" fill="url(#sh)"/>
<path d="M763.82 430.13 L771.22 430.13 L768.12 433.43 L766.92 433.43 Z" fill="#86d4ff" opacity="0.9"/>
<rect x="763.02" y="343.98" width="9.0" height="85.85" fill="url(#gr)"/>
<rect x="763.02" y="343.98" width="9.0" height="85.85" fill="url(#sh)"/>
<path d="M763.82 344.28 L771.22 344.28 L768.12 347.58 L766.92 347.58 Z" fill="#ff9c9c" opacity="0.9"/>
<rect x="763.02" y="292.47" width="9.0" height="51.51" fill="url(#gg)"/>
<rect x="763.02" y="292.47" width="9.0" height="51.51" fill="url(#sh)"/>
<path d="M763.82 292.77 L771.22 292.77 L768.12 296.07 L766.92 296.07 Z" fill="#eaf784" opacity="0.9"/>
<rect x="763.02" y="275.30" width="9.0" height="17.17" fill="url(#gp)"/>
<rect x="763.02" y="275.30" width="9.0" height="17.17" fill="url(#sh)"/>
<path d="M763.82 275.60 L771.22 275.60 L768.12 278.90 L766.92 278.90 Z" fill="#ccaafb" opacity="0.9"/>
<rect x="774.65" y="394.29" width="12.6" height="52.01" fill="#fff"/>
<rect x="776.45" y="429.83" width="9.0" height="17.17" fill="url(#gb)"/>
<rect x="776.45" y="429.83" width="9.0" height="17.17" fill="url(#sh)"/>
<path d="M777.25 430.13 L784.65 430.13 L781.55 433.43 L780.35 433.43 Z" fill="#86d4ff" opacity="0.9"/>
<rect x="776.45" y="412.66" width="9.0" height="17.17" fill="url(#gr)"/>
<rect x="776.45" y="412.66" width="9.0" height="17.17" fill="url(#sh)"/>
<path d="M777.25 412.96 L784.65 412.96 L781.55 416.26 L780.35 416.26 Z" fill="#ff9c9c" opacity="0.9"/>
<rect x="776.45" y="395.49" width="9.0" height="17.17" fill="url(#gg)"/>
<rect x="776.45" y="395.49" width="9.0" height="17.17" fill="url(#sh)"/>
<path d="M777.25 395.79 L784.65 395.79 L781.55 399.09 L780.35 399.09 Z" fill="#eaf784" opacity="0.9"/>
<rect x="788.07" y="377.12" width="12.6" height="69.18" fill="#fff"/>
<rect x="789.87" y="429.83" width="9.0" height="17.17" fill="url(#gb)"/>
<rect x="789.87" y="429.83" width="9.0" height="17.17" fill="url(#sh)"/>
<path d="M790.67 430.13 L798.07 430.13 L794.97 433.43 L793.77 433.43 Z" fill="#86d4ff" opacity="0.9"/>
<rect x="789.87" y="395.49" width="9.0" height="34.34" fill="url(#gr)"/>
<rect x="789.87" y="395.49" width="9.0" height="34.34" fill="url(#sh)"/>
<path d="M790.67 395.79 L798.07 395.79 L794.97 399.09 L793.77 399.09 Z" fill="#ff9c9c" opacity="0.9"/>
<rect x="789.87" y="378.32" width="9.0" height="17.17" fill="url(#gg)"/>
<rect x="789.87" y="378.32" width="9.0" height="17.17" fill="url(#sh)"/>
<path d="M790.67 378.62 L798.07 378.62 L794.97 381.92 L793.77 381.92 Z" fill="#eaf784" opacity="0.9"/>
<rect x="814.93" y="222.59" width="12.6" height="223.71" fill="#fff"/>
<rect x="816.73" y="412.66" width="9.0" height="34.34" fill="url(#gb)"/>
<rect x="816.73" y="412.66" width="9.0" height="34.34" fill="url(#sh)"/>
<path d="M817.53 412.96 L824.93 412.96 L821.83 416.26 L820.63 416.26 Z" fill="#86d4ff" opacity="0.9"/>
<rect x="816.73" y="343.98" width="9.0" height="68.68" fill="url(#gr)"/>
<rect x="816.73" y="343.98" width="9.0" height="68.68" fill="url(#sh)"/>
<path d="M817.53 344.28 L824.93 344.28 L821.83 347.58 L820.63 347.58 Z" fill="#ff9c9c" opacity="0.9"/>
<rect x="816.73" y="223.79" width="9.0" height="120.19" fill="url(#gg)"/>
<rect x="816.73" y="223.79" width="9.0" height="120.19" fill="url(#sh)"/>
<path d="M817.53 224.09 L824.93 224.09 L821.83 227.39 L820.63 227.39 Z" fill="#eaf784" opacity="0.9"/>
<rect x="828.36" y="359.95" width="12.6" height="86.35" fill="#fff"/>
<rect x="830.16" y="412.66" width="9.0" height="34.34" fill="url(#gr)"/>
<rect x="830.16" y="412.66" width="9.0" height="34.34" fill="url(#sh)"/>
<path d="M830.96 412.96 L838.36 412.96 L835.26 416.26 L834.06 416.26 Z" fill="#ff9c9c" opacity="0.9"/>
<rect x="830.16" y="361.15" width="9.0" height="51.51" fill="url(#gg)"/>
<rect x="830.16" y="361.15" width="9.0" height="51.51" fill="url(#sh)"/>
<path d="M830.96 361.45 L838.36 361.45 L835.26 364.75 L834.06 364.75 Z" fill="#eaf784" opacity="0.9"/>
<rect x="51.95" y="56.00" width="5.15" height="5.0" fill="url(#mp)"/>
<path d="M53.0 56.20 L56.1 56.20 L54.55 59.00 Z" fill="#ccaafb" opacity="0.85"/>
<rect x="51.95" y="72.50" width="5.15" height="5.0" fill="url(#mg)"/>
<path d="M53.0 72.70 L56.1 72.70 L54.55 75.50 Z" fill="#eaf784" opacity="0.85"/>
<rect x="51.95" y="89.00" width="5.15" height="5.0" fill="url(#mr)"/>
<path d="M53.0 89.20 L56.1 89.20 L54.55 92.00 Z" fill="#ff9c9c" opacity="0.85"/>
<rect x="51.95" y="105.40" width="5.15" height="5.0" fill="url(#mb)"/>
<path d="M53.0 105.60 L56.1 105.60 L54.55 108.40 Z" fill="#86d4ff" opacity="0.85"/>
</svg>
<div class="yl" style="top:355.3px">5</div>
<div class="yl" style="top:269.5px">10</div>
<div class="yl" style="top:183.6px">15</div>
<div class="yl" style="top:97.8px">20</div>
<div class="yl" style="top:11.9px">25</div>
<div class="lg" style="top:52.80px">20m</div>
<div class="lg" style="top:69.30px">40m</div>
<div class="lg" style="top:85.80px">80m</div>
<div class="lg" style="top:102.20px">160m</div>
<div class="cl" style="left:37.31px">宗谷</div>
<div class="cl" style="left:50.74px">留萌</div>
<div class="cl" style="left:64.17px">上川</div>
<div class="cl" style="left:77.60px">オホーツク</div>
<div class="cl" style="left:91.03px">空知</div>
<div class="cl" style="left:104.45px">石狩</div>
<div class="cl" style="left:117.88px">根室</div>
<div class="cl" style="left:131.31px">後志</div>
<div class="cl" style="left:144.74px">十勝</div>
<div class="cl" style="left:158.16px">釧路</div>
<div class="cl" style="left:171.59px">日高</div>
<div class="cl" style="left:185.02px">胆振</div>
<div class="cl" style="left:198.45px">檜山</div>
<div class="cl" style="left:211.88px">渡島</div>
<div class="cl" style="left:225.30px">青森県</div>
<div class="cl" style="left:238.73px">岩手県</div>
<div class="cl" style="left:252.16px">秋田県</div>
<div class="cl" style="left:265.59px">山形県</div>
<div class="cl" style="left:279.02px">宮城県</div>
<div class="cl" style="left:292.44px">福島県</div>
<div class="cl" style="left:305.87px">新潟県</div>
<div class="cl" style="left:319.30px">長野県</div>
<div class="cl" style="left:332.73px">東京都</div>
<div class="cl" style="left:346.15px">神奈川県</div>
<div class="cl" style="left:359.58px">千葉県</div>
<div class="cl" style="left:373.01px">埼玉県</div>
<div class="cl" style="left:386.44px">茨城県</div>
<div class="cl" style="left:399.87px">栃木県</div>
<div class="cl" style="left:413.29px">群馬県</div>
<div class="cl" style="left:426.72px">山梨県</div>
<div class="cl" style="left:440.15px">静岡県</div>
<div class="cl" style="left:453.58px">岐阜県</div>
<div class="cl" style="left:467.01px">愛知県</div>
<div class="cl" style="left:480.43px">三重県</div>
<div class="cl" style="left:493.86px">京都府</div>
<div class="cl" style="left:507.29px">滋賀県</div>
<div class="cl" style="left:520.72px">奈良県</div>
<div class="cl" style="left:534.15px">大阪府</div>
<div class="cl" style="left:547.57px">和歌山県</div>
<div class="cl" style="left:561.00px">兵庫県</div>
<div class="cl" style="left:574.43px">富山県</div>
<div class="cl" style="left:587.86px">福井県</div>
<div class="cl" style="left:601.28px">石川県</div>
<div class="cl" style="left:614.71px">岡山県</div>
<div class="cl" style="left:628.14px">島根県</div>
<div class="cl" style="left:641.57px">山口県</div>
<div class="cl" style="left:655.00px">鳥取県</div>
<div class="cl" style="left:668.42px">広島県</div>
<div class="cl" style="left:681.85px">香川県</div>
<div class="cl" style="left:695.28px">徳島県</div>
<div class="cl" style="left:708.71px">愛媛県</div>
<div class="cl" style="left:722.14px">高知県</div>
<div class="cl" style="left:735.56px">福岡県</div>
<div class="cl" style="left:748.99px">佐賀県</div>
<div class="cl" style="left:762.42px">長崎県</div>
<div class="cl" style="left:775.85px">熊本県</div>
<div class="cl" style="left:789.27px">大分県</div>
<div class="cl" style="left:802.70px">宮崎県</div>
<div class="cl" style="left:816.13px">鹿児島県</div>
<div class="cl" style="left:829.56px">沖縄県</div>
<div class="cl" style="left:842.99px">小笠原諸島</div>
<table id="tbl"><colgroup><col style="width:48.6px"><col style="width:39.4px"><col style="width:44.2px"><col style="width:47px"><col style="width:57px"></colgroup>
<tr class="h"><td>Band</td><td>QSO</td><td>Point</td><td>Multi.</td><td>Score</td></tr>
<tr class="s"><td>160m</td><td>56</td><td>56</td><td>38</td><td>2,128</td></tr>
<tr class=""><td>80m</td><td>92</td><td>92</td><td>47</td><td>4,324</td></tr>
<tr class=""><td>40m</td><td>201</td><td>200</td><td>62</td><td>12,400</td></tr>
<tr class=""><td>20m</td><td>28</td><td>27</td><td>13</td><td>351</td></tr>
<tr class="s"><td style="padding-right:6.6px">Total</td><td>377</td><td>375</td><td>160</td><td>60,000</td></tr>
</table>
</body></html>
